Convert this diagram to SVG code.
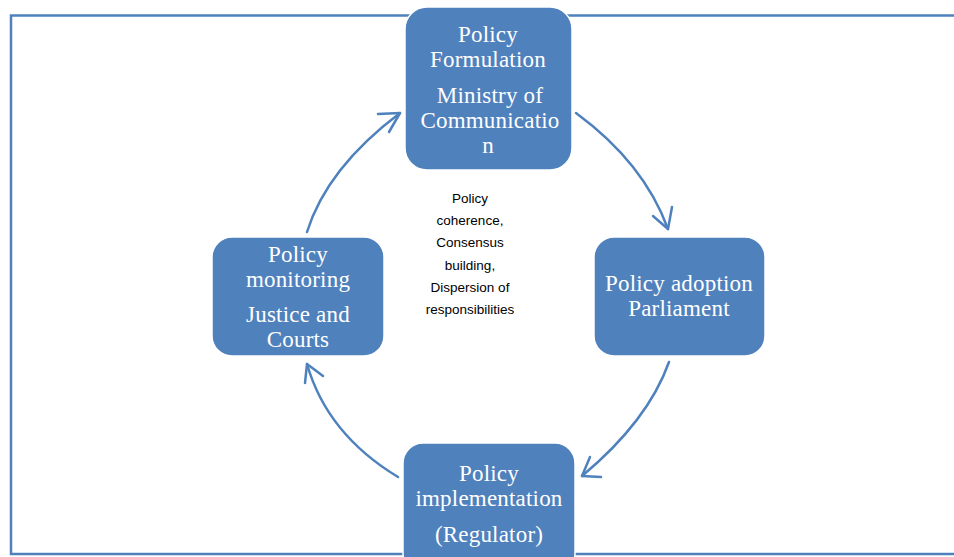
<svg xmlns="http://www.w3.org/2000/svg" width="954" height="557" viewBox="0 0 954 557">
<defs>
<style>
.frame{fill:none;stroke:#4f81bd;stroke-width:2.5}
.box{fill:#4f81bd;stroke:#ffffff;stroke-width:1.5}
.t{font-family:"Liberation Serif","DejaVu Serif",serif;font-size:23px;letter-spacing:0.2px;fill:#ffffff;text-anchor:middle}
.c{font-family:"Liberation Sans",Arial,sans-serif;font-size:13.5px;fill:#000000;text-anchor:middle}
.arc{fill:none;stroke:#4f81bd;stroke-width:2.5;stroke-linecap:round;stroke-linejoin:round}
</style>
</defs>
<rect width="954" height="557" fill="#ffffff"/>
<rect class="frame" x="11" y="15.5" width="970" height="538.5"/>
<g id="connectors">
<path class="arc" d="M576,113 Q644,163 668,229"/>
<path class="arc" d="M653,216 L668,229 L672,207"/>
<path class="arc" d="M669,362 Q648,421 582,476"/>
<path class="arc" d="M590,457 L582,476 L601,477"/>
<path class="arc" d="M398,477 Q327,434 307,364"/>
<path class="arc" d="M305,383 L307,364 L323,376"/>
<path class="arc" d="M307,232 Q327,168 400,113"/>
<path class="arc" d="M378,114 L400,113 L389,132"/>
</g>
<g id="node-formulation">
<rect class="box" x="405" y="7" width="167" height="163" rx="22"/>
<text class="t" x="488" y="42">Policy</text>
<text class="t" x="488" y="67">Formulation</text>
<text class="t" x="490" y="103">Ministry of</text>
<text class="t" x="490" y="128">Communicatio</text>
<text class="t" x="488" y="153">n</text>
</g>
<g id="node-adoption">
<rect class="box" x="594" y="237" width="171" height="119" rx="20"/>
<text class="t" x="679" y="291">Policy adoption</text>
<text class="t" x="679" y="316">Parliament</text>
</g>
<g id="node-implementation">
<rect class="box" x="403" y="443" width="172" height="130" rx="20"/>
<text class="t" x="489" y="481">Policy</text>
<text class="t" x="489" y="506">implementation</text>
<text class="t" x="489" y="542">(Regulator)</text>
</g>
<g id="node-monitoring">
<rect class="box" x="212" y="237" width="172" height="119" rx="20"/>
<text class="t" x="298" y="262">Policy</text>
<text class="t" x="298" y="287">monitoring</text>
<text class="t" x="298" y="322">Justice and</text>
<text class="t" x="298" y="347">Courts</text>
</g>
<g id="center-note">
<text class="c" x="470" y="203">Policy</text>
<text class="c" x="470" y="225">coherence,</text>
<text class="c" x="470" y="247">Consensus</text>
<text class="c" x="470" y="270">building,</text>
<text class="c" x="470" y="292">Dispersion of</text>
<text class="c" x="470" y="314">responsibilities</text>
</g>
</svg>
